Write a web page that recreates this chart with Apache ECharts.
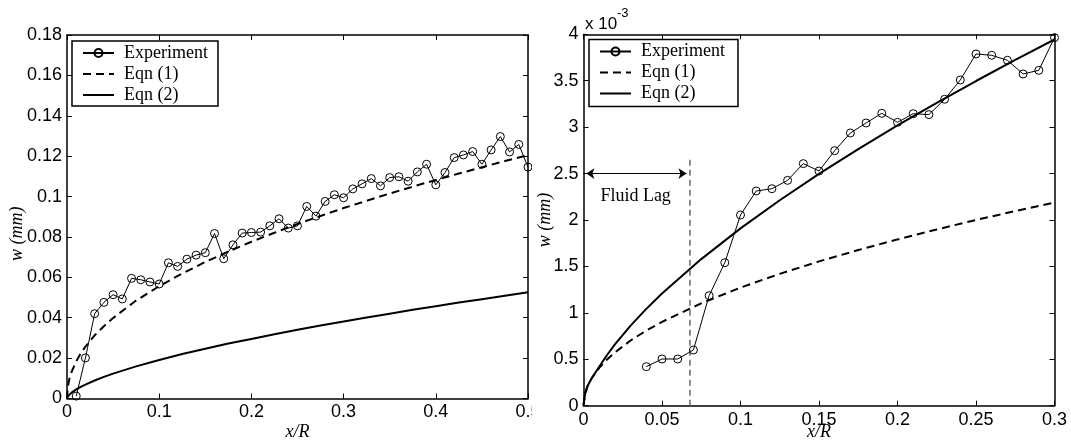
<!DOCTYPE html>
<html>
<head>
<meta charset="utf-8">
<script src="https://cdn.jsdelivr.net/npm/echarts@6/dist/echarts.min.js"></script>
<style>
  html, body { margin: 0; padding: 0; background: #fff; }
  #left { position: absolute; left: 0; top: 0; width: 532px; height: 444px; overflow: hidden; }
  #right { position: absolute; left: 532px; top: 0; width: 539px; height: 444px; }
</style>
</head>
<body>
<div id="left"></div>
<div id="right"></div>
<script>
// left panel: w (mm) against x/R
const expLeftX = [0.01, 0.02, 0.03, 0.04, 0.05, 0.06, 0.07, 0.08, 0.09, 0.10,
                  0.11, 0.12, 0.13, 0.14, 0.15, 0.16, 0.17, 0.18, 0.19, 0.20,
                  0.21, 0.22, 0.23, 0.24, 0.25, 0.26, 0.27, 0.28, 0.29, 0.30,
                  0.31, 0.32, 0.33, 0.34, 0.35, 0.36, 0.37, 0.38, 0.39, 0.40,
                  0.41, 0.42, 0.43, 0.44, 0.45, 0.46, 0.47, 0.48, 0.49, 0.50];
const expLeftY = [0.0012, 0.0201, 0.0420, 0.0476, 0.0514, 0.0493, 0.0595, 0.0588, 0.0577, 0.0567,
                  0.0672, 0.0654, 0.0690, 0.0710, 0.0722, 0.0817, 0.0692, 0.0761, 0.0819, 0.0822,
                  0.0824, 0.0855, 0.0890, 0.0844, 0.0855, 0.0951, 0.0903, 0.0976, 0.1009, 0.0994,
                  0.1038, 0.1063, 0.1089, 0.1053, 0.1094, 0.1098, 0.1076, 0.1122, 0.1160, 0.1058,
                  0.1119, 0.1193, 0.1206, 0.1223, 0.1160, 0.1231, 0.1297, 0.1221, 0.1258, 0.1146];

const eqnLeftX  = [0, 0.001, 0.0025, 0.005, 0.01, 0.015, 0.02, 0.03, 0.04, 0.05,
                   0.075, 0.1, 0.125, 0.15, 0.175, 0.2, 0.225, 0.25, 0.275, 0.3,
                   0.325, 0.35, 0.375, 0.4, 0.425, 0.45, 0.475, 0.5];
const eqn1LeftY = [0, 0.0061, 0.0095, 0.0132, 0.0184, 0.0224, 0.0257, 0.0313, 0.0358, 0.0399,
                   0.0485, 0.0556, 0.0619, 0.0676, 0.0728, 0.0776, 0.0821, 0.0864, 0.0904, 0.0943,
                   0.0979, 0.1015, 0.1049, 0.1082, 0.1114, 0.1145, 0.1176, 0.1205];
const eqn2LeftY = [0, 0.0011, 0.0019, 0.0029, 0.0045, 0.0058, 0.0069, 0.0089, 0.0107, 0.0123,
                   0.0159, 0.0191, 0.0220, 0.0246, 0.0272, 0.0295, 0.0318, 0.0340, 0.0361, 0.0381,
                   0.0401, 0.0420, 0.0439, 0.0457, 0.0475, 0.0492, 0.0509, 0.0526];

// right panel: w in units of 1e-3 mm
const expRightX = [0.04, 0.05, 0.06, 0.07, 0.08, 0.09, 0.10, 0.11, 0.12, 0.13,
                   0.14, 0.15, 0.16, 0.17, 0.18, 0.19, 0.20, 0.21, 0.22, 0.23,
                   0.24, 0.25, 0.26, 0.27, 0.28, 0.29, 0.30];
const expRightY = [0.42, 0.503, 0.503, 0.60, 1.185, 1.54, 2.054, 2.312, 2.337, 2.427,
                   2.607, 2.528, 2.747, 2.937, 3.045, 3.149, 3.052, 3.145, 3.135, 3.30,
                   3.508, 3.788, 3.774, 3.72, 3.573, 3.612, 3.964];

const eqnRightX  = [0, 0.001, 0.0025, 0.005, 0.01, 0.015, 0.02, 0.03, 0.04, 0.05,
                    0.075, 0.1, 0.125, 0.15, 0.175, 0.2, 0.225, 0.25, 0.275, 0.3];
const eqn1RightY = [0, 0.131, 0.205, 0.290, 0.408, 0.498, 0.574, 0.702, 0.809, 0.903,
                    1.103, 1.272, 1.420, 1.554, 1.676, 1.791, 1.898, 2.000, 2.096, 2.187];
const eqn2RightY = [0, 0.13, 0.21, 0.29, 0.42, 0.546, 0.660, 0.863, 1.043, 1.209,
                    1.579, 1.910, 2.213, 2.496, 2.763, 3.018, 3.261, 3.497, 3.724, 3.944];

const fluidLagX = 0.0678;
const fluidLagTop = 2.68;
const arrowY = 2.5;
const arrowFrom = 0.0018;
const arrowTo = 0.0656;
const lagLabelPos = [0.0332, 2.26];

const legendNames = ['Experiment', 'Eqn (1)', 'Eqn (2)'];

const zip = (xs, ys) => xs.map((x, i) => [x, ys[i]]);

const tickFont = 'Liberation Sans, Arial, sans-serif';
const textFont = 'Liberation Serif, Times New Roman, serif';

function makeAxes(xr, yr, names) {
  const base = {
    type: 'value',
    axisLine: { show: true, onZero: false, lineStyle: { color: '#000', width: 1.5 } },
    axisTick: { show: true, inside: true, length: 5, lineStyle: { color: '#000', width: 1 } },
    splitLine: { show: false },
    axisLabel: { color: '#000', fontFamily: tickFont, fontSize: 18, margin: 5, showMinLabel: true, showMaxLabel: true }
  };
  const nameStyle = { fontFamily: textFont, fontStyle: 'italic', fontSize: 18, color: '#000' };
  return {
    xAxis: [
      Object.assign({}, base, { min: xr[0], max: xr[1], interval: xr[2], position: 'bottom',
        name: 'x/R', nameLocation: 'middle', nameGap: names.xGap, nameMoveOverlap: false,
        nameTextStyle: nameStyle }),
      Object.assign({}, base, { min: xr[0], max: xr[1], interval: xr[2], position: 'top',
        axisLabel: { show: false } })
    ],
    yAxis: [
      Object.assign({}, base, { min: yr[0], max: yr[1], interval: yr[2], position: 'left',
        name: 'w (mm)', nameLocation: 'middle', nameGap: names.yGap, nameMoveOverlap: false,
        nameTextStyle: Object.assign({ padding: names.yPad }, nameStyle) }),
      Object.assign({}, base, { min: yr[0], max: yr[1], interval: yr[2], position: 'right',
        axisLabel: { show: false } })
    ]
  };
}

function legendAt(left, top, padding) {
  return {
    data: legendNames,
    orient: 'vertical',
    left: left, top: top,
    padding: padding,
    itemWidth: 31, itemHeight: 10, itemGap: 3,
    borderColor: '#000', borderWidth: 1.5,
    backgroundColor: '#fff',
    selectedMode: false,
    textStyle: { fontFamily: textFont, fontSize: 18, lineHeight: 18, color: '#000', padding: [0, 0, 0, 5] }
  };
}

function curveSeries(name, xs, ys, dashed) {
  return {
    name: name,
    type: 'line',
    data: zip(xs, ys),
    symbol: 'none',
    color: '#000',
    itemStyle: { color: 'rgba(0,0,0,0)', borderWidth: 0 },
    lineStyle: { color: '#000', width: 2, type: dashed ? [8, 5] : 'solid' }
  };
}

function expSeries(xs, ys) {
  return {
    name: 'Experiment',
    type: 'line',
    data: zip(xs, ys),
    symbol: 'circle',
    symbolSize: 8,
    color: '#000',
    itemStyle: { color: 'rgba(0,0,0,0)', borderColor: '#000', borderWidth: 1 },
    lineStyle: { color: '#000', width: 1 },
    z: 3
  };
}

// left chart
const leftChart = echarts.init(document.getElementById('left'));
const leftAxes = makeAxes([0, 0.5, 0.1], [0, 0.18, 0.02], { xGap: 25, yGap: 41, yPad: [0, 34, 0, 0] });
leftChart.setOption({
  animation: false,
  backgroundColor: '#fff',
  grid: { left: 67, top: 35, width: 461, height: 363.5, containLabel: false, outerBoundsMode: 'none' },
  xAxis: leftAxes.xAxis,
  yAxis: leftAxes.yAxis,
  legend: legendAt(72, 41, [3, 10, 2, 10]),
  series: [
    expSeries(expLeftX, expLeftY),
    curveSeries('Eqn (1)', eqnLeftX, eqn1LeftY, true),
    curveSeries('Eqn (2)', eqnLeftX, eqn2LeftY, false)
  ]
});

// right chart
const rightChart = echarts.init(document.getElementById('right'));
const rightAxes = makeAxes([0, 0.3, 0.05], [0, 4, 0.5], { xGap: 18, yGap: 29, yPad: [0, 0, 0, 0] });
rightChart.setOption({
  animation: false,
  backgroundColor: '#fff',
  grid: { left: 51.5, top: 34.3, width: 471, height: 371.4, containLabel: false, outerBoundsMode: 'none' },
  xAxis: rightAxes.xAxis,
  yAxis: rightAxes.yAxis,
  legend: legendAt(57, 39.5, [3, 13, 4, 10]),
  graphic: [
    { type: 'text', left: 53, top: 16, style: { text: 'x 10', fontFamily: tickFont, fontSize: 17, fill: '#000' } },
    { type: 'text', left: 85, top: 7, style: { text: '-3', fontFamily: tickFont, fontSize: 13, fill: '#000' } }
  ],
  series: [
    expSeries(expRightX, expRightY),
    curveSeries('Eqn (1)', eqnRightX, eqn1RightY, true),
    curveSeries('Eqn (2)', eqnRightX, eqn2RightY, false),
    {
      name: 'Fluid Lag',
      type: 'line',
      data: [[fluidLagX, 0], [fluidLagX, fluidLagTop]],
      symbol: 'none',
      lineStyle: { color: '#666', width: 1.5, type: [6, 4] },
      markLine: {
        silent: true,
        symbol: ['arrow', 'arrow'],
        symbolSize: 8,
        label: { show: false },
        lineStyle: { color: '#000', width: 1, type: 'solid' },
        data: [[{ coord: [arrowFrom, arrowY] }, { coord: [arrowTo, arrowY] }]]
      },
      markPoint: {
        silent: true,
        symbol: 'circle',
        symbolSize: 1,
        itemStyle: { color: 'rgba(0,0,0,0)' },
        label: { show: true, position: 'inside', formatter: 'Fluid Lag', fontFamily: textFont, fontSize: 18, color: '#000' },
        data: [{ coord: lagLabelPos }]
      }
    }
  ]
});
</script>
</body>
</html>
